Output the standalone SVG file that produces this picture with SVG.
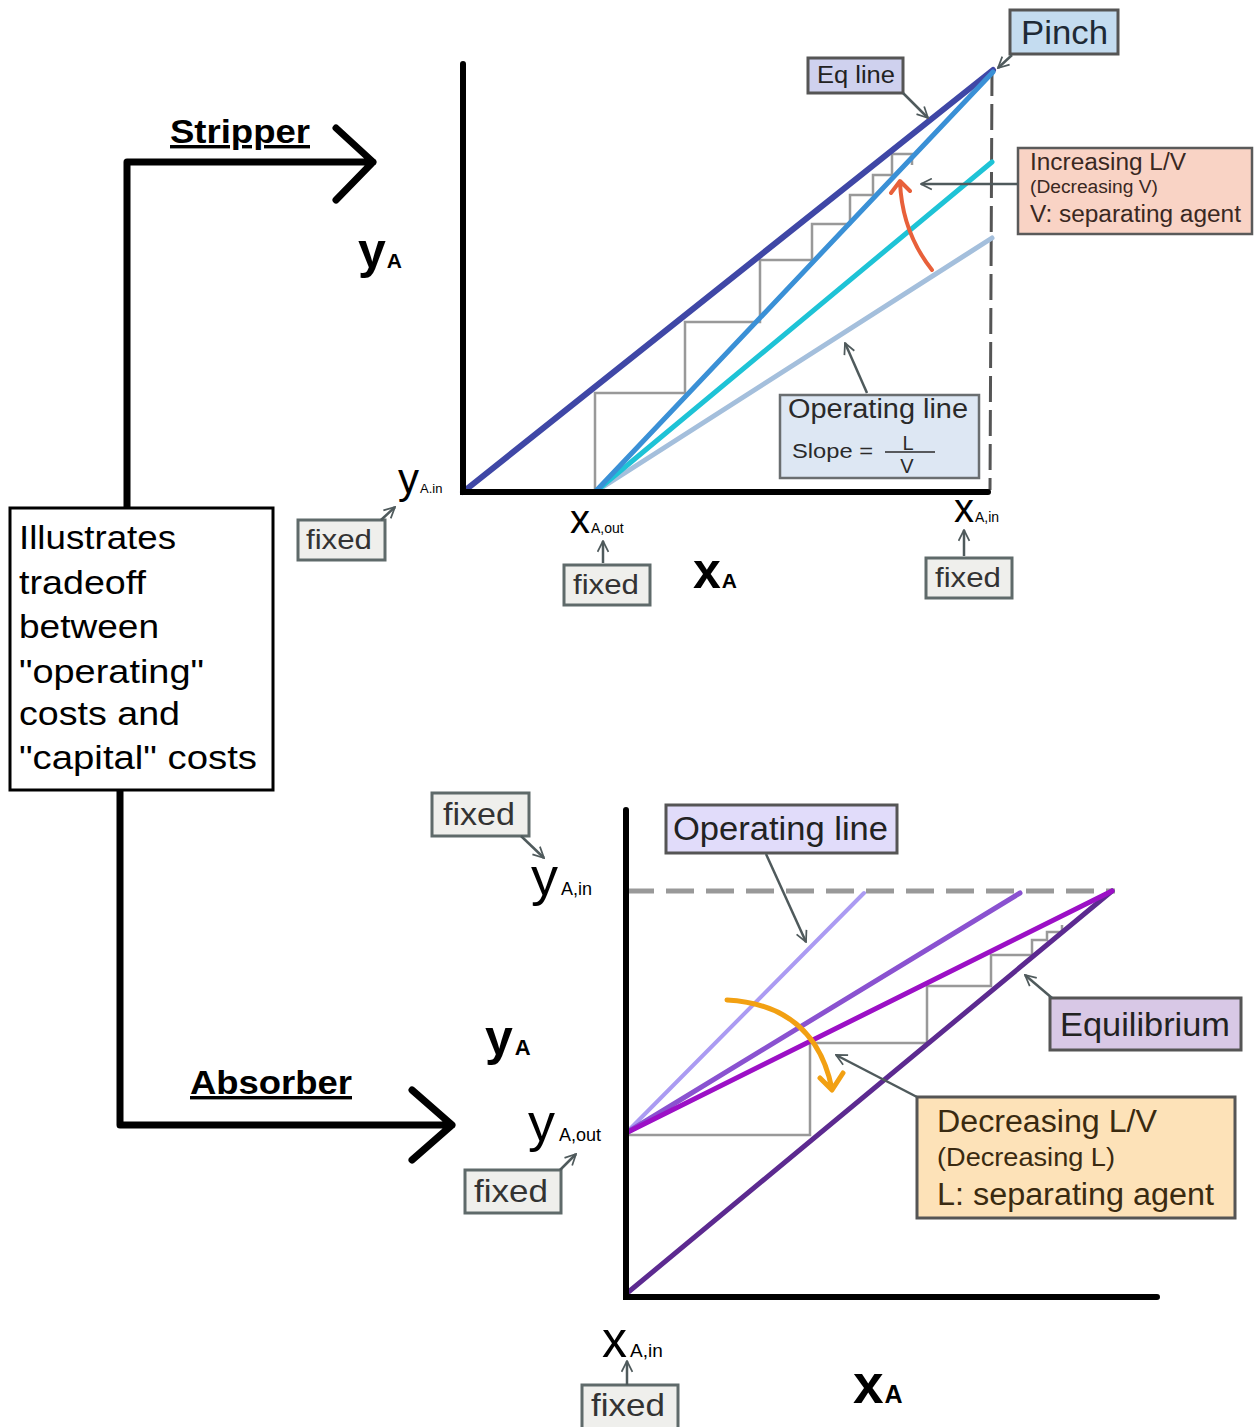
<svg xmlns="http://www.w3.org/2000/svg" width="1254" height="1427" viewBox="0 0 1254 1427">
<style>
text{font-family:"Liberation Sans",Arial,sans-serif;}
.ax{stroke:#000;stroke-width:6;fill:none;stroke-linecap:round}
.flow{stroke:#000;stroke-width:7;fill:none;stroke-linecap:round;stroke-linejoin:round}
.step{stroke:#999;stroke-width:2.5;fill:none}
.ptr{stroke:#4f5a5c;stroke-width:2.5;fill:none;marker-end:url(#ah)}
.fx{fill:#efefec;stroke:#5f6a6a;stroke-width:3}
.fxt{font-size:28px;fill:#333}
.lbl{stroke:#555;stroke-width:3}
</style>
<defs>
<marker id="ah" viewBox="0 0 12 12" refX="11" refY="6" markerWidth="13" markerHeight="13" orient="auto" markerUnits="userSpaceOnUse">
<path d="M1,1 L11,6 L1,11" fill="none" stroke="#4f5a5c" stroke-width="1.6"/>
</marker>
</defs>
<rect width="1254" height="1427" fill="#fff"/>

<g id="connectors">
<path class="flow" d="M127,508 V162 H373 M336,128 L373,162 L336,200"/>
<path class="flow" d="M120,790 V1125 H452 M412,1090 L452,1125 L412,1160"/>
</g>

<g id="tradeoff">
<rect x="10" y="508" width="263" height="282" fill="#fff" stroke="#000" stroke-width="3"/>
<text x="19" y="549" font-size="33" textLength="157" lengthAdjust="spacingAndGlyphs">Illustrates</text>
<text x="19" y="594" font-size="33" textLength="127" lengthAdjust="spacingAndGlyphs">tradeoff</text>
<text x="19" y="638" font-size="33" textLength="140" lengthAdjust="spacingAndGlyphs">between</text>
<text x="19" y="683" font-size="33" textLength="185" lengthAdjust="spacingAndGlyphs">"operating"</text>
<text x="19" y="725" font-size="33" textLength="161" lengthAdjust="spacingAndGlyphs">costs and</text>
<text x="19" y="769" font-size="33" textLength="238" lengthAdjust="spacingAndGlyphs">"capital" costs</text>
</g>
<g id="stripper-label">
<text x="170" y="143" font-size="34" font-weight="bold" text-decoration="underline" textLength="140" lengthAdjust="spacingAndGlyphs">Stripper</text>
</g>
<g id="absorber-label">
<text x="190" y="1094" font-size="34" font-weight="bold" text-decoration="underline" textLength="162" lengthAdjust="spacingAndGlyphs">Absorber</text>
</g>

<g id="stripper-graph">
<path class="step" d="M595,492 V393 H685 V322 H760 V260 H812 V224 H850 V195 H873 V175 H892 V154 H912 V165"/>
<line x1="992" y1="70" x2="990" y2="490" stroke="#555" stroke-width="3" stroke-dasharray="26,8"/>
<line x1="463" y1="492" x2="993" y2="70" stroke="#3f47a6" stroke-width="6" stroke-linecap="round"/>
<line x1="595" y1="492" x2="992" y2="238" stroke="#a4bfdc" stroke-width="5" stroke-linecap="round"/>
<line x1="595" y1="492" x2="992" y2="162" stroke="#1ec3d6" stroke-width="5" stroke-linecap="round"/>
<line x1="595" y1="492" x2="993" y2="72" stroke="#3a90d6" stroke-width="5" stroke-linecap="round"/>
<path class="ax" d="M463,64 V492 H988"/>
<path d="M932,270 Q902,232 900,182 M891,193 L900,181 L910,191" fill="none" stroke="#e8603a" stroke-width="4" stroke-linecap="round" stroke-linejoin="round"/>
<text x="358" y="268" font-size="50" font-weight="bold">y<tspan font-size="21" dx="1">A</tspan></text>
<text x="693" y="588" font-size="50" font-weight="bold">x<tspan font-size="21" dx="1">A</tspan></text>
<text x="398" y="493" font-size="42">y<tspan font-size="13" dx="1">A.in</tspan></text>
<text x="570" y="533" font-size="40">x<tspan font-size="14" dx="1">A,out</tspan></text>
<text x="954" y="522" font-size="40">x<tspan font-size="14" dx="1">A,in</tspan></text>
</g>

<g id="eq-line-label">
<rect class="lbl" x="808" y="58" width="95" height="35" fill="#cfd1ee"/>
<text x="817" y="83" font-size="23" fill="#222" textLength="78" lengthAdjust="spacingAndGlyphs">Eq line</text>
<line class="ptr" x1="903" y1="93" x2="928" y2="118"/>
</g>
<g id="pinch-label">
<rect class="lbl" x="1010" y="10" width="108" height="44" fill="#c4dcf0"/>
<text x="1021" y="44" font-size="33" fill="#1e2a36" textLength="87" lengthAdjust="spacingAndGlyphs">Pinch</text>
<line class="ptr" x1="1012" y1="55" x2="998" y2="68"/>
</g>
<g id="increasing-label">
<rect x="1018" y="148" width="234" height="86" fill="#f9d3c5" stroke="#5a5a5a" stroke-width="2.5"/>
<text x="1030" y="170" font-size="23" fill="#3a2822" textLength="156" lengthAdjust="spacingAndGlyphs">Increasing L/V</text>
<text x="1030" y="193" font-size="18" fill="#3a2822" textLength="128" lengthAdjust="spacingAndGlyphs">(Decreasing V)</text>
<text x="1030" y="222" font-size="23" fill="#3a2822" textLength="211" lengthAdjust="spacingAndGlyphs">V: separating agent</text>
<line class="ptr" x1="1018" y1="184" x2="921" y2="184"/>
</g>
<g id="op-line-top-label">
<rect x="780" y="395" width="199" height="83" fill="#dde7f3" stroke="#6a6e70" stroke-width="2.5"/>
<text x="788" y="418" font-size="27" fill="#2a2a2a" textLength="180" lengthAdjust="spacingAndGlyphs">Operating line</text>
<text x="792" y="458" font-size="21" fill="#2a2a2a" textLength="81" lengthAdjust="spacingAndGlyphs">Slope =</text>
<text x="908" y="450" font-size="20" fill="#2a2a2a" text-anchor="middle">L</text>
<line x1="885" y1="452" x2="935" y2="452" stroke="#2a2a2a" stroke-width="1.5"/>
<text x="907" y="473" font-size="20" fill="#2a2a2a" text-anchor="middle">V</text>
<line class="ptr" x1="867" y1="393" x2="845" y2="343"/>
</g>
<g id="fixed-1">
<rect class="fx" x="298" y="520" width="87" height="40"/>
<text class="fxt" x="306" y="549" textLength="66" lengthAdjust="spacingAndGlyphs">fixed</text>
<line class="ptr" x1="381" y1="520" x2="395" y2="507"/>
</g>
<g id="fixed-2">
<rect class="fx" x="564" y="565" width="86" height="40"/>
<text class="fxt" x="573" y="594" textLength="66" lengthAdjust="spacingAndGlyphs">fixed</text>
<line class="ptr" x1="603" y1="563" x2="603" y2="541"/>
</g>
<g id="fixed-3">
<rect class="fx" x="926" y="558" width="86" height="40"/>
<text class="fxt" x="935" y="587" textLength="66" lengthAdjust="spacingAndGlyphs">fixed</text>
<line class="ptr" x1="964" y1="556" x2="964" y2="530"/>
</g>

<g id="absorber-graph">
<path class="step" d="M626,1135 H810 V1043 H927 V986 H991 V955 H1032 V940 H1047 V932 H1062 V925"/>
<line x1="626" y1="891" x2="1115" y2="891" stroke="#999" stroke-width="5" stroke-dasharray="28,12"/>
<line x1="626" y1="1294" x2="1112" y2="891" stroke="#5c2a90" stroke-width="5" stroke-linecap="round"/>
<line x1="626" y1="1133" x2="864" y2="893" stroke="#ab9bf2" stroke-width="4" stroke-linecap="round"/>
<line x1="626" y1="1133" x2="1020" y2="893" stroke="#8a52d0" stroke-width="5" stroke-linecap="round"/>
<line x1="626" y1="1133" x2="1112" y2="891" stroke="#9c10c6" stroke-width="5" stroke-linecap="round"/>
<path class="ax" d="M626,810 V1297 H1157"/>
<path d="M727,1000 Q815,1005 832,1089 M820,1078 L832,1090 L843,1073" fill="none" stroke="#f2a012" stroke-width="5" stroke-linecap="round" stroke-linejoin="round"/>
<text x="485" y="1055" font-size="50" font-weight="bold">y<tspan font-size="22" dx="2">A</tspan></text>
<text x="853" y="1403" font-size="55" font-weight="bold">x<tspan font-size="25" dx="1">A</tspan></text>
<text x="531" y="895" font-size="54">y<tspan font-size="18" dx="3">A,in</tspan></text>
<text x="528" y="1141" font-size="54">y<tspan font-size="18" dx="4">A,out</tspan></text>
<text x="602" y="1357" font-size="50">x<tspan font-size="19" dx="3">A,in</tspan></text>
</g>

<g id="op-line-bottom-label">
<rect class="lbl" x="666" y="805" width="231" height="48" fill="#e1dcfa"/>
<text x="673" y="840" font-size="33" fill="#222" textLength="215" lengthAdjust="spacingAndGlyphs">Operating line</text>
<line class="ptr" x1="766" y1="854" x2="806" y2="942"/>
</g>
<g id="equilibrium-label">
<rect class="lbl" x="1050" y="998" width="191" height="52" fill="#d8c8e6"/>
<text x="1060" y="1036" font-size="33" fill="#222" textLength="170" lengthAdjust="spacingAndGlyphs">Equilibrium</text>
<line class="ptr" x1="1052" y1="998" x2="1025" y2="975"/>
</g>
<g id="decreasing-label">
<rect class="lbl" x="917" y="1097" width="318" height="121" fill="#fde2b8"/>
<text x="937" y="1132" font-size="31" fill="#3a2a10" textLength="220" lengthAdjust="spacingAndGlyphs">Decreasing L/V</text>
<text x="937" y="1166" font-size="25" fill="#3a2a10" textLength="178" lengthAdjust="spacingAndGlyphs">(Decreasing L)</text>
<text x="937" y="1205" font-size="31" fill="#3a2a10" textLength="277" lengthAdjust="spacingAndGlyphs">L: separating agent</text>
<line class="ptr" x1="917" y1="1097" x2="836" y2="1055"/>
</g>
<g id="fixed-4">
<rect class="fx" x="432" y="793" width="97" height="43"/>
<text class="fxt" x="443" y="825" style="font-size:32px" textLength="72" lengthAdjust="spacingAndGlyphs">fixed</text>
<line class="ptr" x1="521" y1="836" x2="544" y2="858"/>
</g>
<g id="fixed-5">
<rect class="fx" x="465" y="1170" width="96" height="43"/>
<text class="fxt" x="474" y="1202" style="font-size:32px" textLength="74" lengthAdjust="spacingAndGlyphs">fixed</text>
<line class="ptr" x1="560" y1="1170" x2="576" y2="1154"/>
</g>
<g id="fixed-6">
<rect class="fx" x="582" y="1385" width="96" height="44"/>
<text class="fxt" x="591" y="1416" style="font-size:32px" textLength="74" lengthAdjust="spacingAndGlyphs">fixed</text>
<line class="ptr" x1="627" y1="1385" x2="627" y2="1361"/>
</g>
</svg>
